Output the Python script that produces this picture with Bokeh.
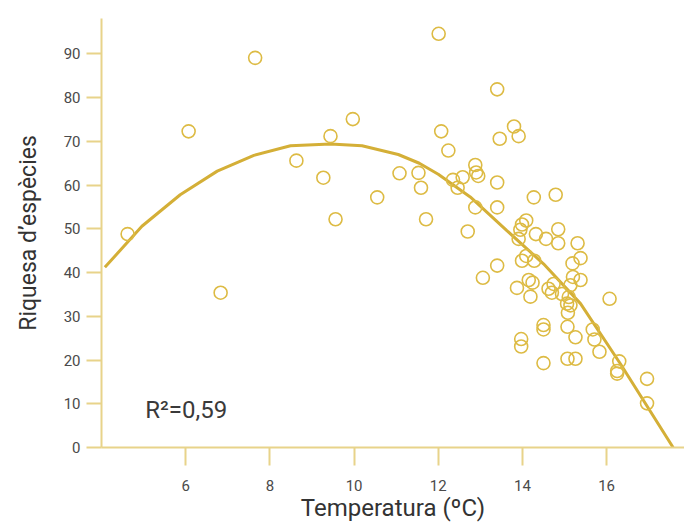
from bokeh.plotting import figure
from bokeh.models import Range1d, Label, FixedTicker
from bokeh.embed import file_html
from bokeh.resources import INLINE

# Observed sites: temperature (ºC) and species richness
temperature = [4.62, 6.07, 6.83, 7.65, 8.63, 9.27, 9.44, 9.56, 9.97, 10.55,
               11.08, 11.53, 11.59, 11.71, 12.01, 12.07, 12.24, 12.35, 12.46, 12.58,
               12.70, 12.88, 12.90, 12.95, 12.88, 13.06, 13.40, 13.46, 13.40, 13.40,
               13.40, 13.80, 13.91, 14.27, 14.79, 14.09, 13.99, 13.95, 13.91, 14.32,
               14.56, 14.85, 14.85, 15.31, 15.38, 15.19, 13.99, 14.09, 14.28, 14.15,
               14.24, 13.87, 15.38, 15.20, 15.14, 14.62, 14.74, 14.70, 14.19, 16.07,
               14.94, 15.10, 15.06, 15.14, 15.08, 14.50, 14.50, 15.07, 15.26, 15.67,
               15.71, 15.83, 13.97, 13.97, 14.50, 15.07, 15.26, 16.30, 16.25, 16.25,
               16.96, 16.96]
richness = [48.8, 72.3, 35.4, 89.1, 65.6, 61.7, 71.2, 52.2, 75.1, 57.2,
            62.7, 62.8, 59.4, 52.2, 94.6, 72.3, 67.9, 61.2, 59.4, 61.8,
            49.4, 64.6, 62.9, 62.1, 54.9, 38.8, 81.9, 70.6, 60.6, 54.9,
            41.6, 73.4, 71.2, 57.2, 57.8, 51.9, 51.0, 49.8, 47.7, 48.8,
            47.7, 49.9, 46.7, 46.7, 43.3, 42.1, 42.7, 43.8, 42.7, 38.3,
            37.7, 36.5, 38.3, 39.0, 37.1, 36.3, 37.4, 35.4, 34.5, 34.0,
            35.1, 34.4, 32.9, 32.5, 30.8, 28.0, 27.0, 27.6, 25.2, 27.0,
            24.7, 21.9, 24.8, 23.1, 19.3, 20.3, 20.3, 19.7, 17.5, 16.9,
            15.7, 10.1]

# Fitted curve (vertices)
fit_t = [4.08, 4.96, 5.87, 6.75, 7.62, 8.49, 9.44, 10.19, 11.05, 11.55,
         12.00, 12.76, 13.63, 14.50, 15.38, 16.33, 17.58]
fit_v = [41.2, 50.6, 57.8, 63.2, 66.8, 69.0, 69.4, 69.0, 67.0, 65.0,
         62.5, 57.3, 49.6, 42.0, 32.9, 19.1, 0.0]

x_ticks = [6, 8, 10, 12, 14, 16]
y_ticks = [0, 10, 20, 30, 40, 50, 60, 70, 80, 90]
r2_text = "R²=0,59"

AXIS = "#E8D38A"
MARK = "#DDBB44"
LINE = "#D4AF37"
TXT = "#4a4a4a"

p = figure(width=684, height=526, output_backend="svg", toolbar_location=None,
           x_range=Range1d(4.0, 17.85), y_range=Range1d(0, 98.1),
           min_border_left=101, min_border_top=18, min_border_right=0,
           min_border_bottom=79)
p.outline_line_color = None
p.grid.grid_line_color = None
p.background_fill_color = "white"
p.border_fill_color = "white"

p.line(fit_t, fit_v, line_color=LINE, line_width=3)
p.scatter(temperature, richness, marker="circle", size=13, fill_color=None,
          line_color=MARK, line_width=1.6)

for ax in (p.xaxis[0], p.yaxis[0]):
    ax.axis_line_color = AXIS
    ax.axis_line_width = 2
    ax.major_tick_line_color = AXIS
    ax.major_tick_line_width = 2
    ax.minor_tick_line_color = None
    ax.major_tick_in = 0
    ax.major_label_text_font = "Roboto"
    ax.major_label_text_font_size = "15px"
    ax.major_label_text_color = TXT
    ax.axis_label_text_font = "Roboto"
    ax.axis_label_text_font_style = "normal"
    ax.axis_label_text_color = "#333333"

p.xaxis.ticker = FixedTicker(ticks=x_ticks)
p.xaxis.major_tick_out = 18
p.xaxis.major_label_standoff = 14
p.xaxis.axis_label = "Temperatura (ºC)"
p.xaxis.axis_label_text_font_size = "24px"
p.xaxis.axis_label_standoff = 0

p.yaxis.ticker = FixedTicker(ticks=y_ticks)
p.yaxis.major_tick_out = 15
p.yaxis.major_label_standoff = 6
p.yaxis.axis_label = "Riquesa d’espècies"
p.yaxis.axis_label_text_font_size = "23px"
p.yaxis.axis_label_standoff = 19

p.add_layout(Label(x=5.04, y=8.6, text=r2_text, text_font="Roboto",
                   text_font_size="24px", text_color="#3a3a3a",
                   text_baseline="alphabetic"))

open("out.html", "w").write(file_html(p, INLINE))
